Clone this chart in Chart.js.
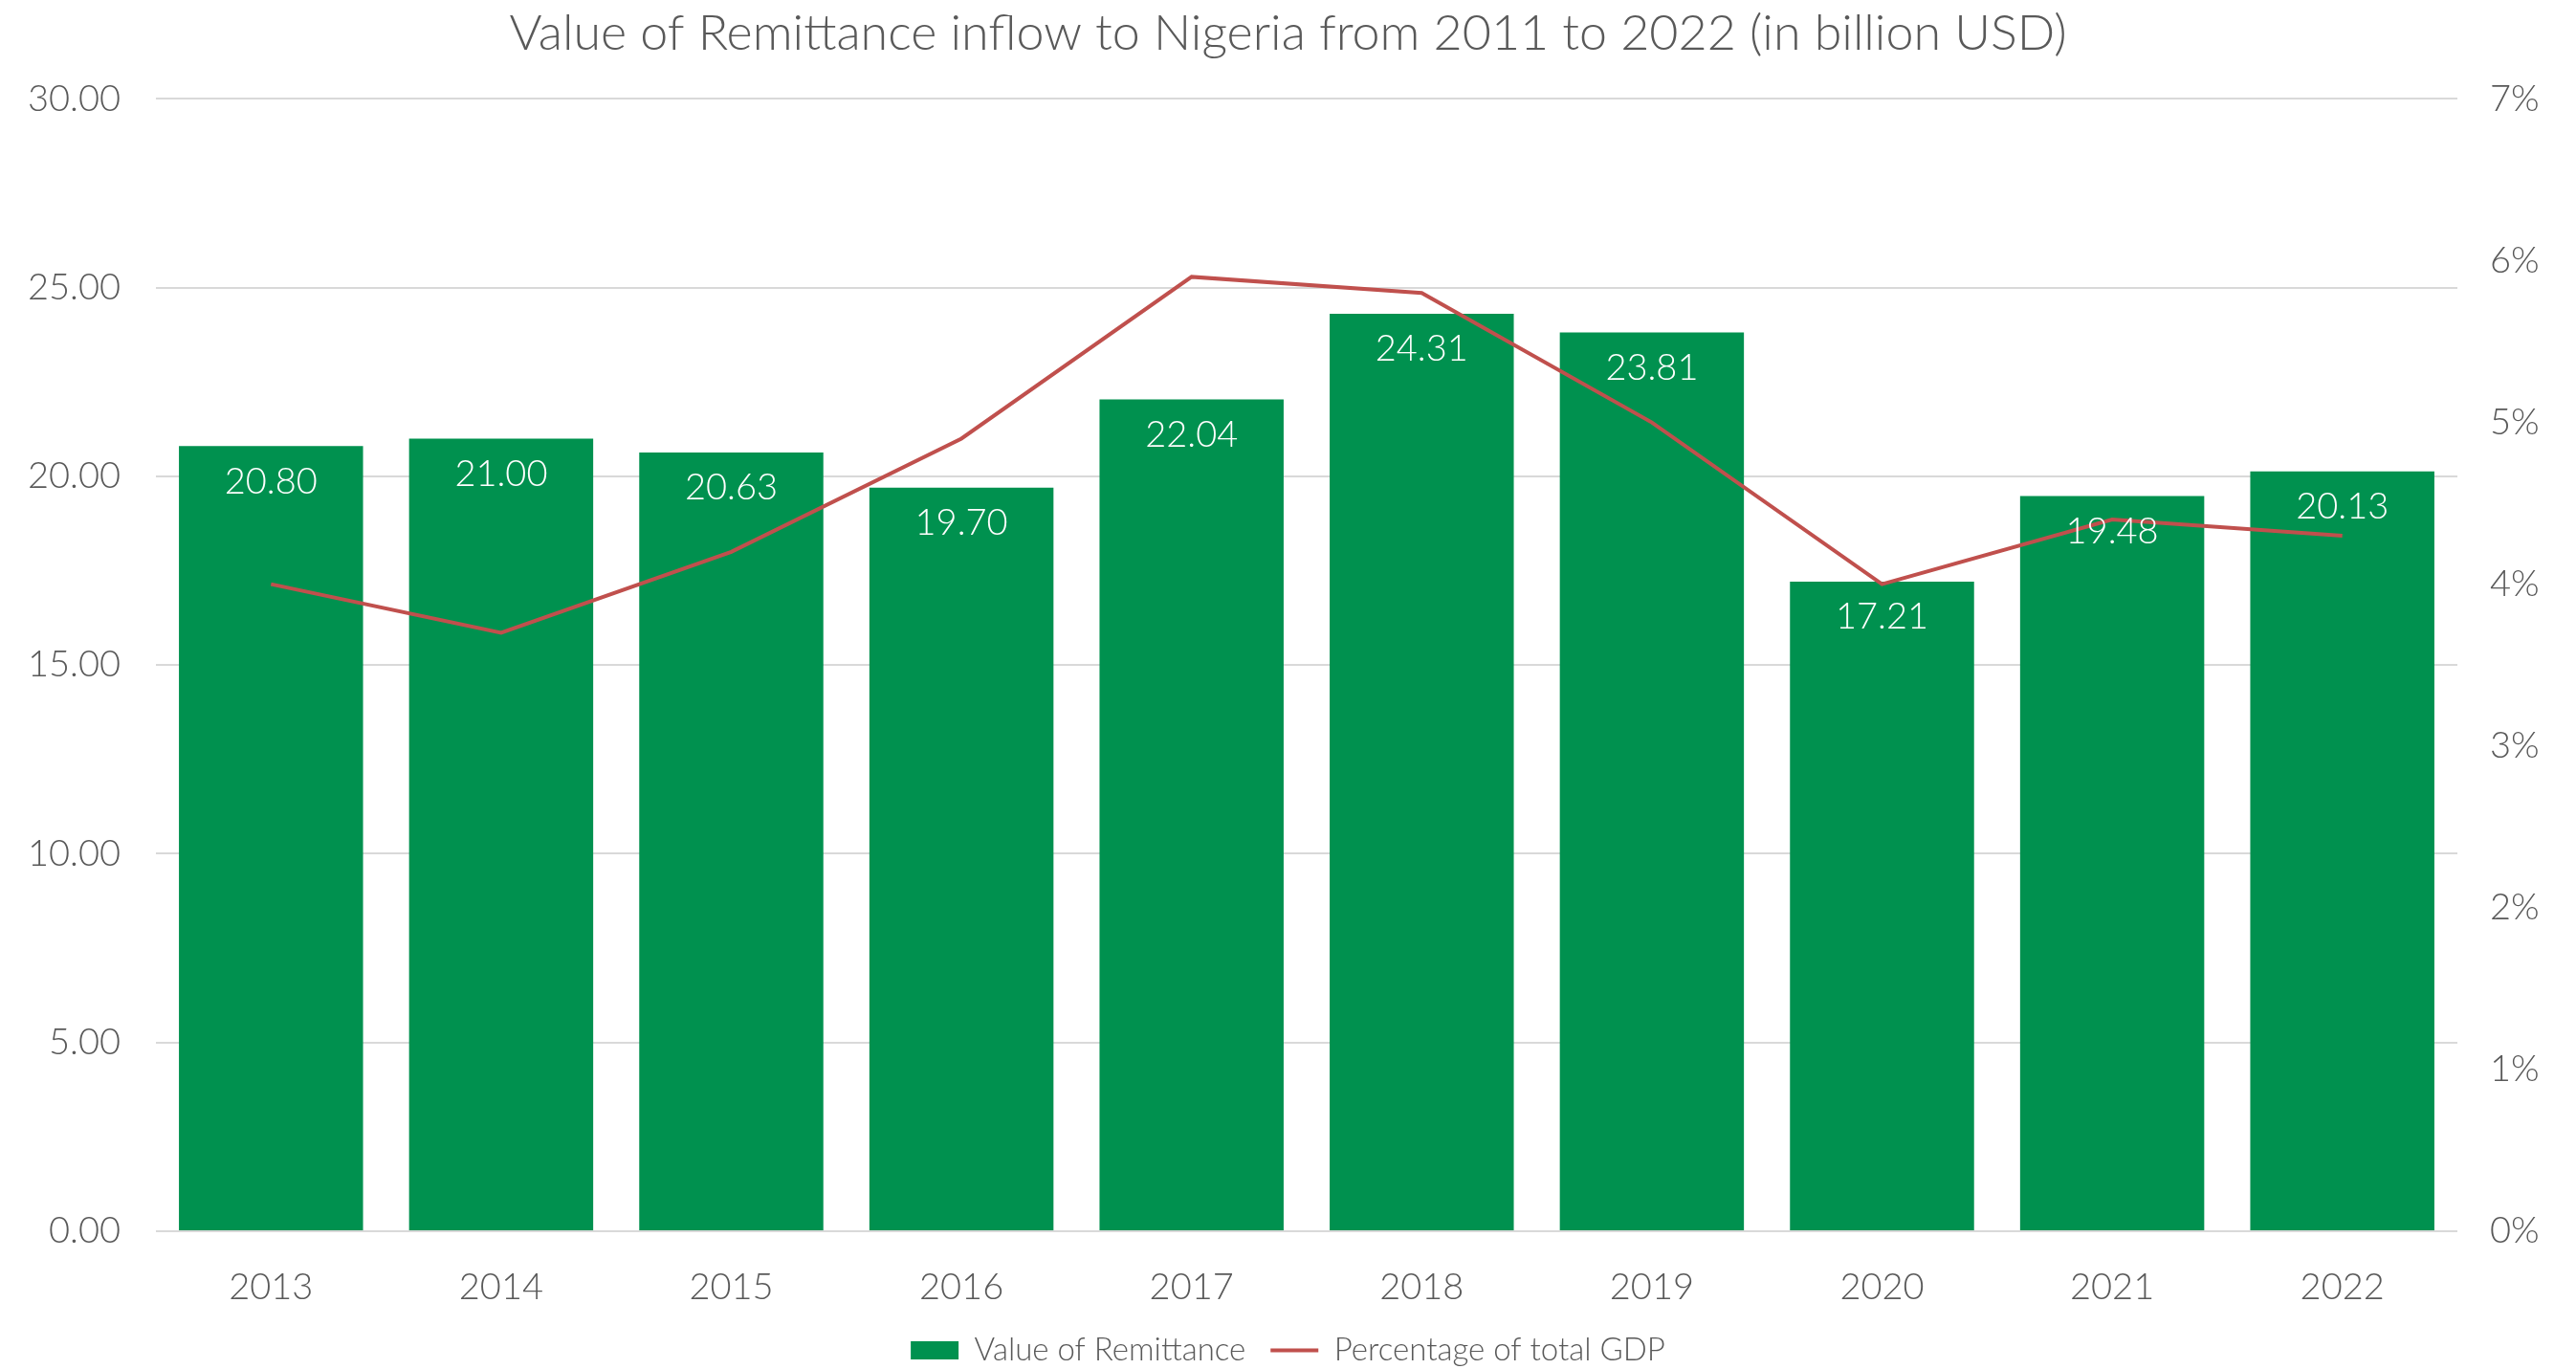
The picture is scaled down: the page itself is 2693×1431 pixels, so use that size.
<!DOCTYPE html>
<html>
<head>
<meta charset="utf-8">
<script src="https://cdn.jsdelivr.net/npm/chart.js@4.4.1/dist/chart.umd.min.js"></script>
<style>
  html, body { margin: 0; padding: 0; background: #fff; }
  #wrap { width: 2693px; height: 1431px; position: relative; }
</style>
</head>
<body>
<div id="wrap"><canvas id="remit-chart"></canvas></div>
<script>
// chart data
const years = ["2013", "2014", "2015", "2016", "2017", "2018", "2019", "2020", "2021", "2022"];
const remittance = [20.80, 21.00, 20.63, 19.70, 22.04, 24.31, 23.81, 17.21, 19.48, 20.13];
const gdpShare = [4.0, 3.7, 4.2, 4.9, 5.9, 5.8, 5.0, 4.0, 4.4, 4.3];
const leftTicks = [0, 5, 10, 15, 20, 25, 30];
const rightTicks = [0, 1, 2, 3, 4, 5, 6, 7];

const textGrey = "#595959";
const fontFamily = "Lato, 'Open Sans', sans-serif";

// white value labels just inside the top of each bar
const barLabels = {
  id: "barLabels",
  afterDatasetsDraw(chart) {
    const meta = chart.getDatasetMeta(0);
    const ctx = chart.ctx;
    ctx.save();
    ctx.fillStyle = "#ffffff";
    ctx.font = "300 38px " + fontFamily;
    ctx.textAlign = "center";
    ctx.textBaseline = "middle";
    meta.data.forEach((bar, i) => {
      ctx.fillText(remittance[i].toFixed(2), bar.x, bar.y + 37);
    });
    ctx.restore();
  }
};

new Chart(document.getElementById("remit-chart"), {
  data: {
    labels: years,
    datasets: [
      {
        type: "bar",
        label: "Value of Remittance",
        data: remittance,
        backgroundColor: "#00914F",
        yAxisID: "y",
        order: 1,
        barPercentage: 0.8,
        categoryPercentage: 1.0,
        pointStyle: "rect"
      },
      {
        type: "line",
        label: "Percentage of total GDP",
        data: gdpShare,
        borderColor: "#C0504D",
        backgroundColor: "#C0504D",
        borderWidth: 4,
        pointRadius: 0,
        tension: 0,
        yAxisID: "y1",
        order: 0,
        pointStyle: "line"
      }
    ]
  },
  options: {
    responsive: true,
    maintainAspectRatio: false,
    animation: false,
    layout: { padding: { top: 0, bottom: 0, left: 0, right: 0 } },
    plugins: {
      title: {
        display: true,
        text: "Value of Remittance inflow to Nigeria from 2011 to 2022 (in billion USD)",
        color: textGrey,
        font: { family: fontFamily, size: 52, weight: "300" },
        padding: { top: 4, bottom: 37 }
      },
      legend: {
        position: "bottom",
        maxHeight: 62,
        labels: {
          usePointStyle: true,
          pointStyleWidth: 50,
          boxHeight: 19,
          padding: 26,
          color: textGrey,
          font: { family: fontFamily, size: 33, weight: "300" },
          sort: (a, b) => a.datasetIndex - b.datasetIndex
        }
      },
      tooltip: { enabled: false }
    },
    scales: {
      x: {
        grid: { display: false },
        border: { display: false },
        ticks: {
          color: textGrey,
          padding: 28,
          font: { family: fontFamily, size: 38, weight: "300" }
        },
        afterFit(scale) { scale.height = 82; }
      },
      y: {
        position: "left",
        min: leftTicks[0],
        max: leftTicks[leftTicks.length - 1],
        border: { display: false },
        grid: { color: "#D9D9D9", lineWidth: 2, drawTicks: false },
        ticks: {
          stepSize: 5,
          padding: 37,
          color: textGrey,
          font: { family: fontFamily, size: 38, weight: "300" },
          callback: (v) => v.toFixed(2)
        },
        afterFit(scale) { scale.width = 163; }
      },
      y1: {
        position: "right",
        min: rightTicks[0],
        max: rightTicks[rightTicks.length - 1],
        border: { display: false },
        grid: { display: false, drawTicks: false },
        ticks: {
          stepSize: 1,
          padding: 34,
          color: textGrey,
          font: { family: fontFamily, size: 38, weight: "300" },
          callback: (v) => v + "%"
        },
        afterFit(scale) { scale.width = 124; }
      }
    }
  },
  plugins: [barLabels]
});
</script>
</body>
</html>
